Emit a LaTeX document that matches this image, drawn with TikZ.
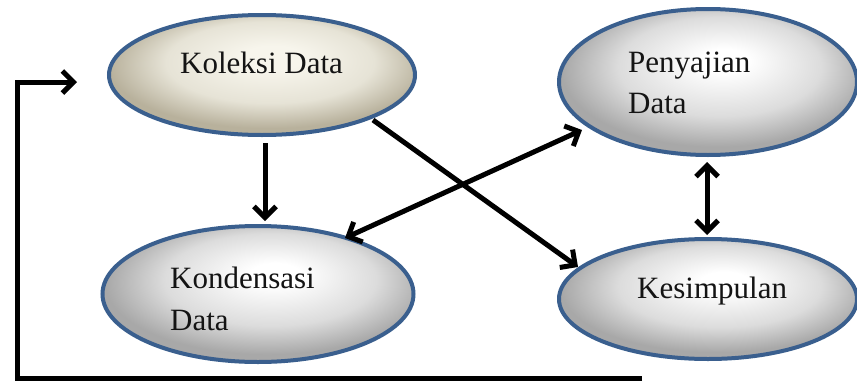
\documentclass[tikz,border=0pt]{standalone}
\usepackage{fontspec}
\setmainfont{Liberation Serif}
\usetikzlibrary{arrows.meta,shapes.geometric}

\definecolor{rimblue}{HTML}{3A5F8E}
\definecolor{inktext}{HTML}{141414}
\definecolor{tanedge}{HTML}{B8B19C}
\definecolor{tanmid}{HTML}{E6E3D6}
\definecolor{tancore}{HTML}{F7F5EC}
\definecolor{greyedge}{HTML}{A8A8A8}
\definecolor{greymid}{HTML}{DCDCDC}

% soft highlight, slightly up and to the right of the centre
\pgfdeclareradialshading{greyball}{\pgfpoint{3bp}{8bp}}{%
  color(0bp)=(white); color(4bp)=(white);
  color(17bp)=(greymid); color(26bp)=(greyedge); color(50bp)=(greyedge)}
\pgfdeclareradialshading{tanball}{\pgfpoint{2bp}{8bp}}{%
  color(0bp)=(tancore); color(5bp)=(tancore);
  color(17bp)=(tanmid); color(26bp)=(tanedge); color(50bp)=(tanedge)}

\tikzset{
  blob/.style={ellipse, draw=rimblue, line width=4pt, inner sep=0pt},
  greyblob/.style={blob, shading=greyball},
  tanblob/.style={blob, shading=tanball},
  caption/.style={anchor=base west, inner sep=0pt, text=inktext,
                  font=\fontsize{31}{36}\selectfont},
  barbtip/.tip={Straight Barb[length=11pt,width=22pt,line width=5pt]},
  arr/.style={line width=5pt, line join=miter, -barbtip},
  dblarr/.style={line width=5pt, barbtip-barbtip},
}

\begin{document}
\begin{tikzpicture}[x=1pt,y=-1pt]
  \useasboundingbox (0,0) rectangle (857,383);

  % the four stages
  \node[tanblob,  minimum width=306pt, minimum height=120pt] (kol)  at (262,75)  {};
  \node[greyblob, minimum width=298pt, minimum height=146pt] (pen)  at (708,82)  {};
  \node[greyblob, minimum width=311pt, minimum height=136pt] (kond) at (258,294) {};
  \node[greyblob, minimum width=298pt, minimum height=120pt] (kes)  at (708,299) {};

  % their labels
  \node[caption] (kolT)  at (180,73)  {Koleksi Data};
  \node[caption] (penT1) at (628,72)  {Penyajian};
  \node[caption] (penT2) at (628,113) {Data};
  \node[caption] (kondT1) at (170,288) {Kondensasi};
  \node[caption] (kondT2) at (170,330) {Data};
  \node[caption] (kesT)  at (637,298) {Kesimpulan};

  % flows between the stages
  \draw[arr] ([shift={(3,6)}]kol.south) -- ([shift={(7,-3)}]kond.north);
  \draw[arr] ([shift={(111,45)}]kol.center) -- ([shift={(-130,-32)}]kes.center);
  \draw[dblarr] ([shift={(87,-56)}]kond.center) -- ([shift={(-126,48)}]pen.center);
  \draw[dblarr] ([shift={(-1,5)}]pen.south) -- ([shift={(-1,-2)}]kes.north);

  % feedback loop back to data collection
  \coordinate (fbstart) at (642,378);
  \coordinate (fbcorner) at (17,378);
  \coordinate (fbtip) at ([shift={(-30,7)}]kol.west);
  \draw[arr] (fbstart) -- (fbcorner) |- (fbtip);
\end{tikzpicture}
\end{document}
